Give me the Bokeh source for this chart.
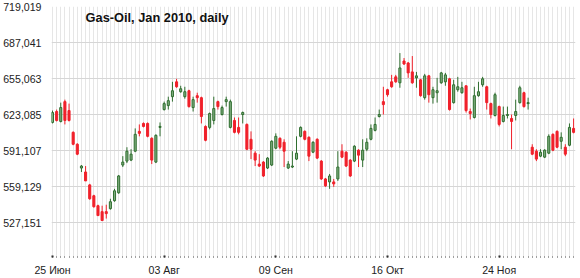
from bokeh.plotting import figure
from bokeh.models import ColumnDataSource, FixedTicker, Range1d, Label, NumeralTickFormatter
from bokeh.embed import file_html
from bokeh.resources import INLINE

title_text = "Gas-Oil,  Jan 2010, daily"
tick_labels = ["25 Июн", "03 Авг", "09 Сен", "16 Окт", "24 Ноя"]
tick_bars = [0, 27, 54, 81, 108]
y_ticks = [527151, 559129, 591107, 623085, 655063, 687041, 719019]

opens = [616235, 625898, 617113, 634683, 626777, 607450, 596908, 575824, 572310, 560889,
         551226, 542441, 537170, 537170, 539805, 546833, 553861, 578459, 581973, 582852,
         590758, 608328, 615356, 615356, 602179, 581095, 611842, 627655, 631169, 639076,
         652253, 643468, 639076, 644347, 629412, 639954, 638197, 612721, 611842, 617992,
         634683, 623263, 634683, 611842, 617992, 611842, 623263, 614478, 601300, 589001,
         579338, 581095, 575824, 578459, 593394, 602179, 598665, 575824, 576702, 583730,
         603936, 608328, 603057, 589880, 601300, 581973, 566160, 563525, 563525, 566160,
         590758, 589880, 582852, 581973, 591637, 582852, 592515, 601300, 609207, 621506,
         634683, 645225, 652253, 656646, 651375, 670702, 668945, 661038, 655767, 654010,
         638197, 657524, 638197, 642590, 651375, 652253, 654889, 633805, 645225, 642590,
         648739, 625898, 620627, 639954, 649618, 647861, 632926, 622384, 630291, 617113,
         622384, 619749, 622384, 633805, 642590, 632926, 594272, 590758, 586366, 585487,
         589001, 605693, 608328, 599543, 594272, 596029, 610964]
closes = [625020, 617992, 629412, 617992, 617992, 596908, 588123, 577581, 564403, 548590,
          541562, 533656, 529263, 535413, 545955, 555618, 568796, 581095, 590758, 588123,
          605693, 606571, 612721, 603936, 582852, 604814, 612721, 632926, 635562, 644347,
          647861, 646104, 643468, 630291, 636440, 638197, 621506, 600422, 624141, 628534,
          630291, 629412, 636440, 634683, 607450, 607450, 625020, 592515, 592515, 582852,
          577581, 568796, 584609, 599543, 603936, 594272, 590758, 579338, 577581, 589001,
          611842, 601300, 586366, 598665, 584609, 566160, 560011, 568796, 561768, 576702,
          585487, 577581, 568796, 595151, 587244, 591637, 598665, 610964, 614478, 623263,
          632048, 640833, 647861, 652253, 664552, 668066, 660160, 651375, 657524, 639954,
          657524, 640833, 645225, 644347, 660160, 658403, 627655, 649618, 647861, 646982,
          626777, 624141, 639954, 643468, 654889, 633805, 623263, 640833, 614478, 622384,
          623263, 617113, 625898, 646982, 630291, 633805, 588123, 583730, 589880, 591637,
          603936, 591637, 594272, 603057, 588123, 611842, 607450]
highs = [626777, 627655, 633805, 636440, 632926, 608328, 597786, 578459, 577581, 561768,
         552104, 543319, 542441, 543319, 548590, 557375, 569674, 586366, 594272, 592515,
         610964, 614478, 616235, 616235, 603057, 605693, 616235, 634683, 639076, 652253,
         654889, 648739, 647861, 645225, 639076, 642590, 639076, 613599, 625020, 639076,
         635562, 631169, 639076, 636440, 620627, 620627, 625898, 615356, 608328, 590758,
         588123, 581973, 585487, 600422, 606571, 603057, 601300, 581973, 590758, 603936,
         612721, 609207, 603936, 599543, 602179, 582852, 567039, 570553, 566160, 590758,
         596908, 590758, 583730, 596029, 592515, 601300, 602179, 614478, 620627, 627655,
         647861, 646104, 658403, 658403, 677730, 673337, 669823, 675094, 661038, 654889,
         659281, 658403, 647861, 655767, 661038, 660160, 655767, 654010, 656646, 652253,
         648739, 628534, 647861, 652253, 656646, 648739, 633805, 642590, 631169, 630291,
         630291, 623263, 636440, 648739, 643468, 638197, 596908, 592515, 592515, 592515,
         605693, 606571, 609207, 607450, 596908, 615356, 619749]
lows = [615356, 617113, 616235, 614478, 617113, 596029, 587244, 572310, 564403, 547712,
        540684, 533656, 529263, 531020, 538927, 545955, 552983, 576702, 580216, 581973,
        589880, 603936, 611842, 603057, 579338, 580216, 603936, 626777, 627655, 634683,
        646982, 642590, 637319, 629412, 625898, 633805, 615356, 599543, 610085, 614478,
        627655, 622384, 630291, 610964, 606571, 605693, 615356, 591637, 583730, 577581,
        576702, 567917, 574945, 577581, 592515, 592515, 576702, 574945, 575824, 582852,
        603057, 600422, 581973, 589001, 583730, 565282, 559132, 557375, 559132, 564403,
        584609, 576702, 567917, 581095, 576702, 576702, 590758, 600422, 608328, 620627,
        623263, 639076, 646982, 651375, 646982, 667188, 655767, 650496, 646982, 639076,
        636440, 633805, 632926, 633805, 650496, 648739, 626777, 632926, 643468, 641711,
        625020, 618870, 619749, 639076, 647861, 627655, 619749, 621506, 612721, 616235,
        619749, 592515, 617992, 632926, 629412, 627655, 587244, 581973, 585487, 584609,
        588123, 590758, 593394, 592515, 586366, 595151, 606571]

n = len(opens)
idx = list(range(n))
up = [c >= o for o, c in zip(opens, closes)]
src = ColumnDataSource(dict(
    x=idx, high=highs, low=lows,
    top=[max(o, c) for o, c in zip(opens, closes)],
    bottom=[min(o, c) for o, c in zip(opens, closes)],
    wick=["#2f6e2f" if u else "#f0202a" for u in up],
    fill=["#80ad80" if u else "#f0202a" for u in up],
    line=["#2f6e2f" if u else "#f0202a" for u in up],
))

p = figure(width=580, height=278, output_backend="svg", toolbar_location=None,
           x_range=Range1d(-0.24, n - 0.54), y_range=Range1d(497400, 719019),
           min_border_left=44, min_border_right=5, min_border_top=6, min_border_bottom=20)
p.outline_line_color = None
p.background_fill_color = "white"
p.border_fill_color = "white"

p.segment(x0="x", y0="low", x1="x", y1="high", line_color="wick", line_width=1, source=src)
p.vbar(x="x", width=0.5, top="top", bottom="bottom", fill_color="fill", line_color="line",
       line_width=1, source=src)

# y axis
p.yaxis.ticker = FixedTicker(ticks=y_ticks)
p.yaxis.formatter = NumeralTickFormatter(format="0,0")
p.yaxis.axis_line_color = None
p.yaxis.major_tick_line_color = None
p.yaxis.minor_tick_line_color = None
p.yaxis.major_label_standoff = 4
p.yaxis.major_label_text_font = "Liberation Sans"
p.yaxis.major_label_text_font_size = "10.6px"
p.yaxis.major_label_text_color = "#222222"

# x axis
p.xaxis.ticker = FixedTicker(ticks=tick_bars, minor_ticks=idx)
p.xaxis.major_label_overrides = {b: l for b, l in zip(tick_bars, tick_labels)}
p.xaxis.axis_line_color = None
p.xaxis.major_tick_line_color = "#222222"
p.xaxis.major_tick_line_width = 2
p.xaxis.major_tick_in = 1
p.xaxis.major_tick_out = 1
p.xaxis.minor_tick_line_color = "#444444"
p.xaxis.minor_tick_in = 0
p.xaxis.minor_tick_out = 1
p.xaxis.major_label_standoff = 6
p.xaxis.major_label_text_font = "Liberation Sans"
p.xaxis.major_label_text_font_size = "10.6px"
p.xaxis.major_label_text_color = "#222222"

# grids
p.ygrid.ticker = FixedTicker(ticks=y_ticks)
p.ygrid.grid_line_color = "#d6d6d6"
p.xgrid.ticker = FixedTicker(ticks=idx)
p.xgrid.grid_line_color = "#e6e6e6"

title = Label(x=8.0, y=709400, text=title_text, text_font="Liberation Sans",
              text_font_style="bold", text_font_size="12.8px", text_baseline="middle",
              text_color="#111111")
p.add_layout(title)

open("out.html", "w").write(file_html(p, INLINE))
